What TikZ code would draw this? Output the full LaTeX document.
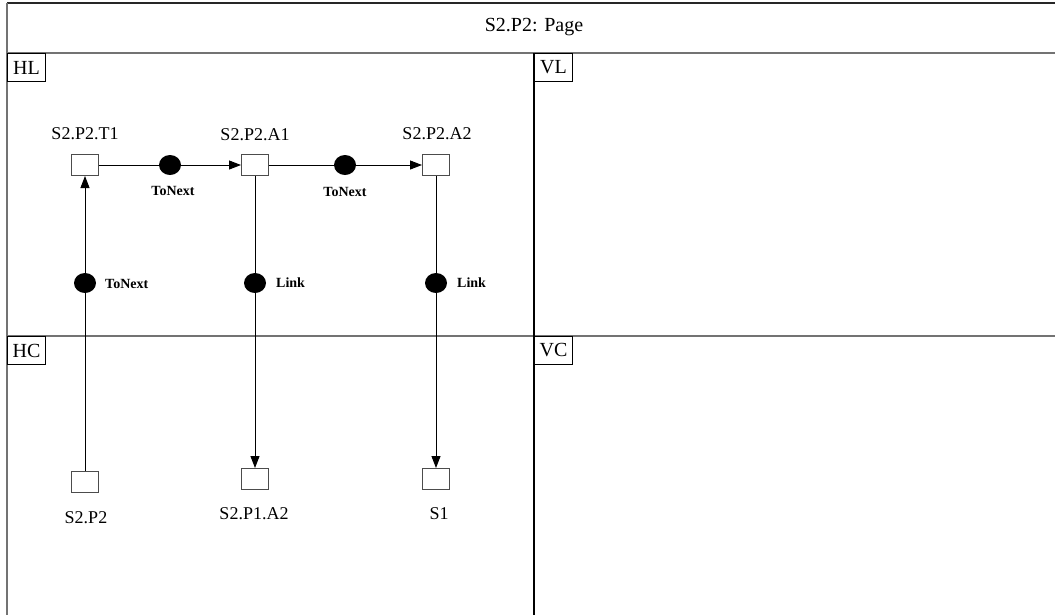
\documentclass[tikz,border=0pt]{standalone}
\usepackage{fontspec}
\setmainfont{Liberation Serif}
\usetikzlibrary{arrows.meta,shapes.geometric}
\begin{document}
\begin{tikzpicture}[x=1pt,y=-1pt,
  obj/.style={draw=black!70, line width=1pt, fill=white, minimum width=27pt, minimum height=21pt, inner sep=0pt},
  dot/.style={ellipse, fill=black, minimum width=22pt, minimum height=20pt, inner sep=0pt},
  lbl/.style={font=\fontsize{18}{20}\selectfont, inner sep=0pt},
  rel/.style={font=\fontsize{14}{16}\selectfont\bfseries, inner sep=0pt},
  region/.style={draw=black, line width=1pt, fill=white, minimum width=38pt, minimum height=28pt, inner sep=0pt, font=\fontsize{20}{22}\selectfont, anchor=north west},
  conn/.style={line width=1pt, -{Triangle[length=12pt,width=9pt]}},
  frame/.style={line width=1.5pt, draw=black!55},
]
\useasboundingbox (0,0) rectangle (1055,614);
\fill[white] (0,0) rectangle (1055,614);

% frame and regions
\draw[line width=1.5pt, black!85] (7,3) -- (1056,3);
\draw[frame] (7,3) -- (7,615);
\draw[frame] (7,53) -- (1056,53);
\draw[frame] (7,336) -- (1056,336);
\draw[line width=1.2pt] (534,53) -- (534,615);

\node[font=\fontsize{20}{22}\selectfont, inner sep=0pt] (title) at (534,27) {S2.P2: Page};

\node[region] (HL) at (7,53) {HL};
\node[region] (VL) at (534,53) {VL};
\node[region] (HC) at (7,336) {HC};
\node[region] (VC) at (534,336) {VC};

% objects
\node[obj] (T1) at (85,165) {};
\node[obj] (A1) at (255,165) {};
\node[obj] (A2) at (436,165) {};
\node[obj] (S2P2) at (85,482) {};
\node[obj] (P1A2) at (255,479) {};
\node[obj] (S1) at (436,479) {};

% object labels
\node[lbl] (T1l) at (85,134) {S2.P2.T1};
\node[lbl] (A1l) at (255,135) {S2.P2.A1};
\node[lbl] (A2l) at (437,134) {S2.P2.A2};
\node[lbl] (S2P2l) at (86,518) {S2.P2};
\node[lbl] (P1A2l) at (254,514) {S2.P1.A2};
\node[lbl] (S1l) at (439,514) {S1};

% connectors
\draw[conn] (T1) -- (A1);
\draw[conn] (A1) -- (A2);
\draw[conn] (S2P2) -- (T1);
\draw[conn] (A1) -- (P1A2);
\draw[conn] (A2) -- (S1);

% relation dots
\node[dot] (d1) at (170,165) {};
\node[dot] (d2) at (345,165) {};
\node[dot] (d3) at (85,283) {};
\node[dot] (d4) at (255,283) {};
\node[dot] (d5) at (436,283) {};

% relation labels
\node[rel] (r1) at (173,191) {ToNext};
\node[rel] (r2) at (345,192) {ToNext};
\node[rel, anchor=west] (r3) at (105,284) {ToNext};
\node[rel, anchor=west] (r4) at (276,283) {Link};
\node[rel, anchor=west] (r5) at (457,283) {Link};
\end{tikzpicture}
\end{document}
